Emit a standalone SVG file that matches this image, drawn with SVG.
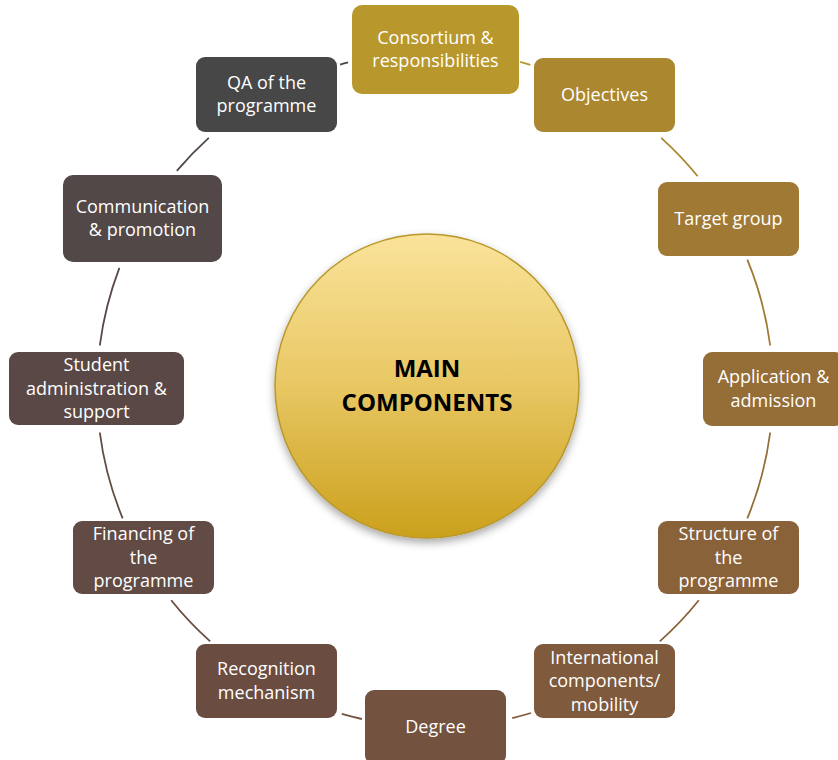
<svg xmlns="http://www.w3.org/2000/svg" width="838" height="760" viewBox="0 0 838 760">
<style>
.box text{font-family:"Open Sans","Noto Sans",sans-serif;font-size:18px;fill:#fff;text-anchor:middle}
.conn path{fill:none;stroke-width:1.8}
.main text{font-family:"Open Sans","Noto Sans",sans-serif;font-size:24px;font-weight:bold;fill:#000;text-anchor:middle}
</style>
<defs>
<linearGradient id="gold" x1="0" y1="0" x2="0" y2="1">
<stop offset="0" stop-color="#FAE39A"/>
<stop offset="0.5" stop-color="#E8C763"/>
<stop offset="1" stop-color="#CBA01C"/>
</linearGradient>
<filter id="sh" x="-20%" y="-20%" width="140%" height="140%">
<feDropShadow dx="0" dy="4" stdDeviation="4" flood-color="#000" flood-opacity="0.35"/>
</filter>
</defs>
<rect width="838" height="760" fill="#fff"/>
<g class="conn">
<path d="M520.2,61.9 A338,338 0 0 1 530.4,64.8" stroke="#B8982C"/>
<path d="M661.2,137.8 A338,338 0 0 1 697.7,176.3" stroke="#AB8730"/>
<path d="M747.3,259.6 A338,338 0 0 1 770.2,345.5" stroke="#A07A34"/>
<path d="M770.2,432.5 A338,338 0 0 1 747.3,518.4" stroke="#956D37"/>
<path d="M698.8,600.3 A338,338 0 0 1 659.8,641.4" stroke="#8A623A"/>
<path d="M531,713 A338,338 0 0 1 512.2,718.1" stroke="#7F5A3C"/>
<path d="M361.9,719 A338,338 0 0 1 341.8,713.9" stroke="#73523F"/>
<path d="M210.2,641.4 A338,338 0 0 1 171.2,600.3" stroke="#6A4C41"/>
<path d="M122.7,518.4 A338,338 0 0 1 99.8,432.5" stroke="#634B45"/>
<path d="M99.8,345.5 A338,338 0 0 1 119.4,267.9" stroke="#5A4846"/>
<path d="M176.8,170.8 A338,338 0 0 1 208.8,137.8" stroke="#524847"/>
<path d="M340.1,64.6 A338,338 0 0 1 348.1,62.4" stroke="#474747"/>
</g>
<g id="main" class="main">
<circle cx="427" cy="386" r="152" fill="url(#gold)" stroke="#B8982C" stroke-width="1.5" filter="url(#sh)"/>
<text x="427" y="377">MAIN</text>
<text x="427" y="411">COMPONENTS</text>
</g>
<g id="n1" class="box">
<rect x="352" y="5" width="167" height="89" rx="10" fill="#B8982C"/>
<text x="435.5" y="43.75">Consortium &amp;</text>
<text x="435.5" y="67.25">responsibilities</text>
</g>
<g id="n2" class="box">
<rect x="534" y="58" width="141" height="74" rx="9" fill="#AB8730"/>
<text x="604.5" y="101">Objectives</text>
</g>
<g id="n3" class="box">
<rect x="658" y="182" width="141" height="74" rx="9" fill="#A07A34"/>
<text x="728.5" y="225">Target group</text>
</g>
<g id="n4" class="box">
<rect x="703" y="352" width="141" height="74" rx="9" fill="#956D37"/>
<text x="773.5" y="383.25">Application &amp;</text>
<text x="773.5" y="406.75">admission</text>
</g>
<g id="n5" class="box">
<rect x="658" y="521" width="141" height="73" rx="9" fill="#8A623A"/>
<text x="728.5" y="540">Structure of</text>
<text x="728.5" y="563.5">the</text>
<text x="728.5" y="587">programme</text>
</g>
<g id="n6" class="box">
<rect x="534" y="644" width="141" height="74" rx="9" fill="#7F5A3C"/>
<text x="604.5" y="663.5">International</text>
<text x="604.5" y="687">components/</text>
<text x="604.5" y="710.5">mobility</text>
</g>
<g id="n7" class="box">
<rect x="365" y="690" width="141" height="74" rx="9" fill="#73523F"/>
<text x="435.5" y="733">Degree</text>
</g>
<g id="n8" class="box">
<rect x="196" y="644" width="141" height="74" rx="9" fill="#6A4C41"/>
<text x="266.5" y="675.25">Recognition</text>
<text x="266.5" y="698.75">mechanism</text>
</g>
<g id="n9" class="box">
<rect x="73" y="521" width="141" height="73" rx="9" fill="#634B45"/>
<text x="143.5" y="540">Financing of</text>
<text x="143.5" y="563.5">the</text>
<text x="143.5" y="587">programme</text>
</g>
<g id="n10" class="box">
<rect x="9" y="352" width="175" height="73" rx="9" fill="#5A4846"/>
<text x="96.5" y="371">Student</text>
<text x="96.5" y="394.5">administration &amp;</text>
<text x="96.5" y="418">support</text>
</g>
<g id="n11" class="box">
<rect x="63" y="175" width="159" height="87" rx="10" fill="#524847"/>
<text x="142.5" y="212.75">Communication</text>
<text x="142.5" y="236.25">&amp; promotion</text>
</g>
<g id="n12" class="box">
<rect x="196" y="57" width="141" height="75" rx="9" fill="#474747"/>
<text x="266.5" y="88.75">QA of the</text>
<text x="266.5" y="112.25">programme</text>
</g>
</svg>
